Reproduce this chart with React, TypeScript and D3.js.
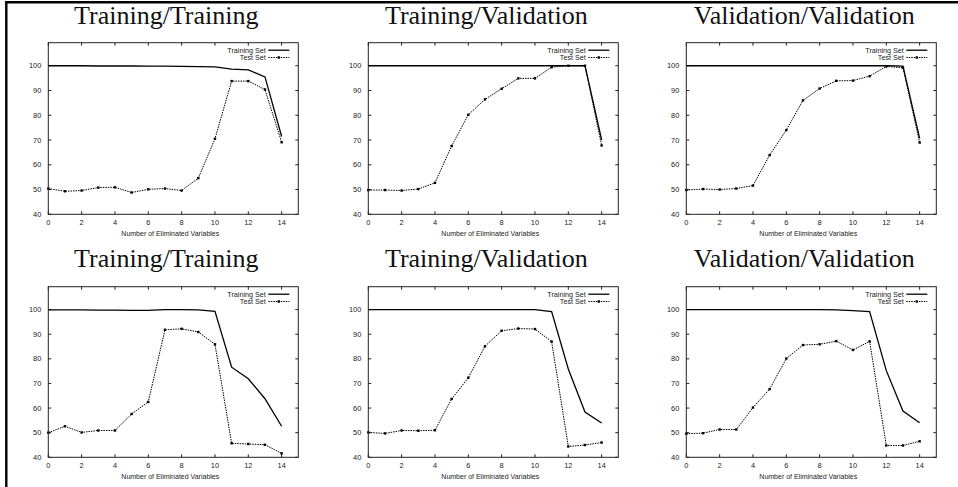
import React from "react";
import * as d3 from "d3";

const eliminated = [0, 1, 2, 3, 4, 5, 6, 7, 8, 9, 10, 11, 12, 13, 14];
const titles = [
  "Training/Training",
  "Training/Validation",
  "Validation/Validation",
  "Training/Training",
  "Training/Validation",
  "Validation/Validation",
];
const xTicks = [0, 2, 4, 6, 8, 10, 12, 14];
const yTicks = [40, 50, 60, 70, 80, 90, 100];
const seriesNames = ["Training Set", "Test Set"];
const xAxisLabel = "Number of Eliminated Variables";

const trainTT1 = [100, 100, 100, 99.9, 99.9, 99.9, 99.8, 99.8, 99.7, 99.6, 99.5, 98.6, 98.3, 95.5, 71.4];
const testTT1 = [50.4, 49.3, 49.6, 50.8, 50.9, 48.8, 50.1, 50.4, 49.6, 54.6, 70.5, 93.8, 93.8, 90.4, 69.1];
const trainTV1 = [100, 100, 100, 100, 100, 100, 100, 100, 100, 100, 100, 100, 100, 100, 70];
const testTV1 = [49.8, 49.8, 49.6, 50.2, 52.7, 67.6, 80.2, 86.4, 90.7, 94.9, 94.9, 99.4, 100, 100, 67.8];
const trainVV1 = [100, 100, 100, 100, 100, 100, 100, 100, 100, 100, 100, 100, 100, 99.8, 70.7];
const testVV1 = [49.8, 50.2, 50, 50.4, 51.6, 63.9, 74, 86, 90.8, 93.9, 94, 95.8, 99.7, 99.2, 69];
const trainTT2 = [99.9, 99.9, 99.9, 99.8, 99.8, 99.7, 99.7, 100, 100, 99.9, 99.3, 76.6, 71.9, 63.8, 52.6];
const testTT2 = [50, 52.6, 50.1, 50.9, 50.9, 57.6, 62.5, 91.8, 92.2, 90.9, 85.9, 45.7, 45.4, 45.1, 41.6];
const trainTV2 = [100, 100, 100, 100, 100, 100, 100, 100, 100, 100, 100, 99.2, 75.9, 58.4, 53.9];
const testTV2 = [50.1, 49.7, 50.9, 50.8, 51, 63.7, 72.3, 85.1, 91.4, 92.3, 92.1, 87, 44.4, 45, 46];
const trainVV2 = [100, 100, 100, 100, 100, 100, 100, 100, 100, 99.9, 99.6, 99.2, 75.2, 58.8, 54];
const testVV2 = [49.6, 49.8, 51.3, 51.3, 60.2, 67.7, 80.1, 85.6, 85.9, 87.2, 83.6, 87.1, 44.8, 44.8, 46.5];

const trainingSeries = [trainTT1, trainTV1, trainVV1, trainTT2, trainTV2, trainVV2];
const testSeries = [testTT1, testTV1, testVV1, testTT2, testTV2, testVV2];

// layout
const W = 958;
const H = 487;
const colLeft = [48.3, 368.3, 686.3];
const rowTop = [42.7, 286.7];
const rowBottom = [214.3, 457.3];
const boxW = 250;
const titleBase = [24, 267];

function Panel({ idx }: { idx: number }) {
  const col = idx % 3;
  const row = Math.floor(idx / 3);
  const left = colLeft[col];
  const top = rowTop[row];
  const bottom = rowBottom[row];
  const right = left + boxW;
  const x = d3.scaleLinear().domain([0, 15]).range([left, right]);
  const y = d3.scaleLinear().domain([40, 109.3]).range([bottom, top]);
  const line = d3
    .line<number>()
    .x((_, i) => x(eliminated[i]))
    .y((d) => y(d));
  const tr = trainingSeries[idx];
  const te = testSeries[idx];
  const tick = 3;
  const sans = "'Liberation Sans', Arial, sans-serif";
  return (
    <g>
      <text
        x={(left + right) / 2 - 7}
        y={titleBase[row]}
        textAnchor="middle"
        fontFamily="'Liberation Serif', 'Times New Roman', serif"
        fontSize={26}
        fill="#111"
      >
        {titles[idx]}
      </text>
      {/* ticks */}
      {yTicks.map((t) => (
        <g key={"y" + t}>
          <line x1={left} x2={left + tick} y1={y(t)} y2={y(t)} stroke="#222" strokeWidth={1} />
          <line x1={right} x2={right - tick} y1={y(t)} y2={y(t)} stroke="#222" strokeWidth={1} />
          <text
            x={left - 7}
            y={y(t) + 2.6}
            textAnchor="end"
            fontFamily={sans}
            fontSize={7.4}
            fill="#222"
          >
            {t}
          </text>
        </g>
      ))}
      {xTicks.map((t) => (
        <g key={"x" + t}>
          <line x1={x(t)} x2={x(t)} y1={bottom} y2={bottom - tick} stroke="#222" strokeWidth={1} />
          <line x1={x(t)} x2={x(t)} y1={top} y2={top + tick} stroke="#222" strokeWidth={1} />
          <text
            x={x(t)}
            y={bottom + 11}
            textAnchor="middle"
            fontFamily={sans}
            fontSize={7.4}
            fill="#222"
          >
            {t}
          </text>
        </g>
      ))}
      <text
        x={(left + right) / 2 - 3}
        y={bottom + 21.5}
        textAnchor="middle"
        fontFamily={sans}
        fontSize={7}
        fill="#222"
      >
        {xAxisLabel}
      </text>
      {/* data */}
      <path d={line(tr) || ""} fill="none" stroke="#000" strokeWidth={1.3} />
      <path d={line(te) || ""} fill="none" stroke="#000" strokeWidth={1} strokeDasharray="1.5,1" />
      {te.map((v, i) => (
        <rect key={i} x={x(eliminated[i]) - 1.2} y={y(v) - 1.2} width={2.4} height={2.4} fill="#000" />
      ))}
      {/* legend */}
      <text x={right - 32.5} y={y(0) * 0 + top + 10} textAnchor="end" fontFamily={sans} fontSize={7.2} fill="#222">
        {seriesNames[0]}
      </text>
      <line x1={right - 30} x2={right - 9} y1={top + 7.5} y2={top + 7.5} stroke="#000" strokeWidth={1.3} />
      <text x={right - 32.5} y={top + 17.3} textAnchor="end" fontFamily={sans} fontSize={7.2} fill="#222">
        {seriesNames[1]}
      </text>
      <line
        x1={right - 30}
        x2={right - 9}
        y1={top + 14.8}
        y2={top + 14.8}
        stroke="#000"
        strokeWidth={1}
        strokeDasharray="1.5,1"
      />
      <rect x={right - 19.5 - 1.2} y={top + 14.8 - 1.2} width={2.4} height={2.4} fill="#000" />
      {/* box */}
      <rect x={left} y={top} width={boxW} height={bottom - top} fill="none" stroke="#222" strokeWidth={1} />
    </g>
  );
}

export default function App() {
  return (
    <svg
      width={W}
      height={H}
      viewBox={`0 0 ${W} ${H}`}
      style={{ position: "absolute", left: 0, top: 0, background: "#fff" }}
    >
      <rect x={0} y={0} width={W} height={H} fill="#fff" />
      <line x1={5} x2={W} y1={2.2} y2={2.2} stroke="#000" strokeWidth={2.4} />
      <line x1={6.3} x2={6.3} y1={1} y2={H} stroke="#000" strokeWidth={2.4} />
      {titles.map((_, i) => (
        <Panel key={i} idx={i} />
      ))}
    </svg>
  );
}
